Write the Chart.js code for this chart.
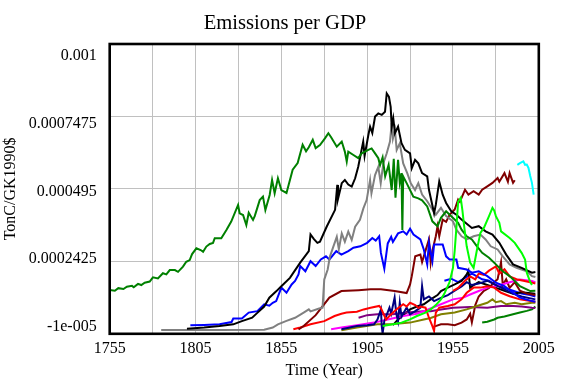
<!DOCTYPE html>
<html>
<head>
<meta charset="utf-8">
<script src="https://cdn.jsdelivr.net/npm/chart.js@4.4.1/dist/chart.umd.min.js"></script>
<style>
html,body{margin:0;padding:0;background:#fff;}
#wrap{width:570px;height:379px;position:relative;}
</style>
</head>
<body>
<div id="wrap"><canvas id="c" width="570" height="379"></canvas></div>
<script>
// values are in units of 1e-5 TonC/GK1990$
const UNIT = 1e-5;

const xTickValues = [1755,1780,1805,1830,1855,1880,1905,1930,1955,1980,2005];
const xLabelYears = [1755,1805,1855,1905,1955,2005];
const yTickValues = [-0.00001, 0.0002425, 0.000495, 0.0007475, 0.001];
const yTickLabels = ['-1e-005','0.0002425','0.000495','0.0007475','0.001'];

const greenYears = [1755,1758,1760,1763,1765,1768,1769,1771.5,1773.4,1775.4,1778.3,1780.2,1783.1,1786,1788,1790,1793,1794.8,1797.7,1799.6,1801.6,1803,1805.5,1808,1809.4,1811.3,1813.3,1815.2,1816.2,1820,1823,1825.8,1829.8,1830.7,1832.7,1834.6,1836,1838.5,1839.5,1842.4,1844.3,1845.7,1848.2,1849.6,1851.1,1853,1855,1858,1861.6,1864.5,1867.4,1869.4,1871,1873.3,1875,1877.5,1880.4,1882.4,1884,1887.3,1890.2,1892,1893.1,1894,1897,1899.8,1901.8,1905.7,1907.6,1909.6,1911.5,1912.5,1914,1915.5,1917.5,1919.3,1920.5,1921.5,1923,1924,1925,1925.5,1926,1928,1931.9,1934.8,1937,1940,1943,1946,1948,1951,1954,1958,1960,1963,1966,1969,1972,1976,1980,1984,1988,1991,1994,2000,2003];
const greenValues = [14.3,14.0,14.9,14.6,15.4,15.7,15.2,16.4,16.0,16.8,17.2,18.7,18.3,20.1,19.7,21.2,21.2,20.6,22.4,24.1,24.7,26.8,28.8,28.2,27.6,29.4,30.3,30.7,32.3,32.3,35.2,38.1,43.9,41.0,40.4,36.9,41.2,38.7,40.0,45.6,46.8,42.1,47.4,52.6,48.0,53.2,49.1,48.1,56.2,58.5,64.9,62.6,64.0,66.6,63.7,64.8,67.1,68.9,67.5,64.2,66.0,62.5,59.0,62.5,61.3,60.2,61.9,63.1,63.6,61.9,60.2,57.8,60.5,53.9,57.9,49.1,60.0,46.4,59.6,51.7,55.0,35.2,53.8,51.5,46.8,46.2,45.5,43.4,38.2,36.5,39.4,41.7,40.0,37.7,35.3,33.0,31.9,29.5,27.2,25.5,23.2,20.8,19.1,17.4,15.6,13.9,14.0];

const blackYears = [1800,1810,1819,1827,1832,1838,1841,1845,1848,1852,1855,1860,1866,1871,1872,1874,1876,1877.5,1881.4,1886.3,1887.6,1888,1890.2,1892,1894,1896,1898,1899.8,1902.7,1903.5,1905.7,1906.7,1908,1909.6,1911.5,1913.5,1915.4,1916.4,1917.7,1918.7,1919.3,1920.2,1921.2,1923,1925,1927,1930,1931,1932.9,1934.8,1937,1940,1941,1944,1945,1947,1949,1951,1954,1957,1960,1966,1970,1974,1978,1982,1986,1990,1995,2001,2003];
const blackValues = [0.8,1.2,1.7,2.3,3.4,4.6,6.3,8.5,11.6,13.8,15.6,18.5,23.8,27.8,33.6,32.0,30.7,31.1,36.3,42.2,50.9,46.0,51.5,52.6,51.0,50.3,53.2,57.2,66.0,61.0,68.3,71.2,69.0,74.7,75.8,75.3,76.4,82.8,81.6,78.1,71.2,74.1,68.9,71.2,65.4,63.1,61.9,56.7,59.6,58.4,55.0,53.9,49.2,41.0,44.0,52.1,47.5,44.6,41.7,40.5,38.8,35.9,36.5,34.7,33.6,30.7,26.6,23.2,22.0,20.3,20.5];

const grayYears = [1785,1800,1820,1845,1850,1853,1858,1863,1868,1871,1872,1877,1879,1880,1882,1883.3,1885.3,1887.3,1888.5,1890.2,1892,1894,1896,1898,1900.8,1902.8,1904.7,1906.7,1907.5,1909.6,1911.5,1912.9,1914.4,1916.4,1918.3,1919.3,1920,1921.2,1922.2,1924,1926,1928.4,1930.4,1932.9,1934.8,1937,1940,1943,1945,1948,1951,1955,1957,1960,1963,1967,1971,1974,1977,1981,1984,1988,1992,1998,2001,2003];
const grayValues = [0.3,0.3,0.3,0.4,1.2,2.3,3.5,4.6,6.4,7.5,6.8,7.8,8.1,17.9,21.4,25.9,29.4,32.8,28.5,34.0,31.1,34.6,31.7,36.3,38.7,42.7,45.6,52.6,48.0,54.3,57.2,51.5,58.4,61.9,66.0,72.4,67.0,70.0,63.1,65.4,58.4,54.9,51.5,49.1,51.5,47.5,45.2,42.3,40.5,42.9,40.0,38.2,35.3,33.0,31.9,33.0,33.6,31.9,29.5,28.4,26.0,23.2,22.0,20.8,19.1,18.8];

const blueYears = [1802,1810,1819,1826,1827,1832,1836,1841,1845,1848,1850,1852,1855,1858,1861,1863,1865,1866,1869,1872,1875,1878,1881,1883,1887,1890,1894,1897,1901,1905,1908,1910,1912,1913,1915,1917,1919,1920,1923,1926,1928,1930,1932,1936,1938,1940,1941,1943,1944,1949,1951,1953,1957,1958,1963,1966,1970,1975,1980,1985,1990,1994,2001,2003];
const blueValues = [2.0,2.1,2.3,3.1,4.3,4.3,6.4,6.9,9.3,8.8,9.8,10.4,15.1,13.3,16.2,17.4,19.7,22.6,20.8,24.3,22.6,24.9,26.0,24.9,27.8,26.6,27.8,29.0,29.5,30.7,32.4,31.5,33.0,27.2,21.7,30.5,32.8,31.0,34.0,34.7,33.6,35.6,33.6,31.9,28.4,23.2,30.7,24.3,30.1,30.1,26.0,24.9,24.9,22.0,21.4,20.3,20.8,19.1,16.8,15.6,13.3,11.6,10.4,10.2];

const maroonYears = [1865,1868,1875,1883,1890,1900,1907,1913,1921,1928,1930,1931,1933,1936,1937,1939,1941,1942,1943,1945,1946,1947,1949,1951,1953,1956,1958,1959,1962,1964,1967,1970,1972,1975,1978,1981,1982,1985,1987,1988,1990,1991];
const maroonValues = [0.5,1.7,5.5,11.6,13.9,14.2,14.5,14.5,13.9,13.2,16.2,19.1,26.0,26.6,24.0,28.0,31.9,23.8,28.0,33.0,36.5,33.0,38.8,38.0,40.5,42.3,45.8,45.0,49.2,47.5,48.7,47.5,49.2,50.4,51.6,53.3,52.0,55.0,52.0,55.0,51.6,52.5];

const cyanYears = [1992.5,1994,1996,1997,1998,1999,2000,2001,2002];
const cyanValues = [57.9,58.5,59.1,57.9,58.0,56.8,54.0,51.6,47.5];

const limeYears = [1914,1920,1925,1930,1934,1939,1942,1945,1948,1950,1953,1955,1956,1957,1958,1959.5,1960.5,1961.5,1963,1965,1967,1969,1971,1973,1976,1978,1979,1980,1982,1983,1988,1991,1995,1997,1998,2000,2001];
const limeValues = [1.7,2.3,2.9,4.0,5.2,6.4,7.5,9.0,11.0,13.0,17.0,22.0,28.0,36.0,45.0,46.4,42.0,36.5,29.5,23.8,22.0,28.4,34.2,35.9,40.0,42.9,42.0,40.0,37.7,34.7,32.4,30.7,27.2,24.9,20.3,17.0,16.0];

const redYears = [1862,1866,1872,1880,1886,1890,1893,1899,1903,1907,1912,1913,1916,1919,1922,1926,1928,1930,1933,1935,1936,1939,1941,1943,1944,1945,1947,1952,1956,1960,1963,1967,1971,1975,1979,1983,1988,1994,2003];
const redValues = [0.6,1.2,2.3,3.4,5.2,6.0,6.4,6.7,7.5,8.1,8.7,8.0,4.0,5.8,7.5,9.3,8.5,9.8,9.0,8.0,8.5,8.1,4.6,1.7,0.0,6.4,8.1,8.7,9.3,11.0,13.3,15.1,15.1,15.6,15.1,13.3,12.1,11.0,10.2];

const red2Years = [1955,1958,1962,1965,1968,1970,1973,1976,1980,1982,1985,1988,1992,1996,2000,2003];
const red2Values = [14.0,15.0,17.5,19.0,18.0,20.0,19.5,21.0,22.5,20.0,21.5,19.0,18.0,17.5,17.0,16.5];

const navyYears = [1890,1899,1905,1909,1911,1913,1913.5,1914,1915,1918,1919,1921,1922,1923,1924,1925,1928,1930,1933,1936,1937,1938,1941,1944,1948,1952,1956,1960,1963,1966,1970,1975,1980,1985,1990,1995,2003];
const navyValues = [0.6,1.7,2.0,2.3,4.0,7.5,1.7,-0.9,3.5,8.1,6.0,11.6,6.0,3.4,9.8,5.0,8.1,5.8,6.9,8.1,15.6,11.0,12.0,10.4,11.5,12.5,14.0,15.5,17.0,16.0,16.5,17.5,16.0,14.5,13.0,12.0,11.0];

const magentaYears = [1884,1890,1899,1909,1917,1926,1934,1938,1948,1955,1961,1965,1970,1975,1980,1987,1994,2001,2003];
const magentaValues = [0.6,1.2,2.0,2.9,4.0,5.2,6.0,6.9,9.3,11.0,11.6,12.7,13.9,15.1,15.6,16.8,17.9,17.4,17.0];

const oliveYears = [1890,1899,1911,1919,1930,1938,1942,1948,1956,1963,1969,1975,1978,1980,1983,1986,1991,1995,2001,2003];
const oliveValues = [0.2,1.2,2.3,2.3,2.9,4.0,4.5,5.8,6.4,7.5,8.7,9.8,11.0,10.0,10.4,9.3,9.8,9.3,9.8,9.8];

const purpleYears = [1900,1905,1911,1920,1928,1938,1942,1948,1955,1965,1975,1983,1990,1995,2001,2003];
const purpleValues = [4.6,5.5,5.8,5.8,6.4,6.9,6.9,7.5,8.1,8.3,8.1,8.7,8.7,8.5,8.1,8.0];

const maroon2Years = [1944,1948,1952,1956,1960,1963,1965,1966,1968,1970,1973,1976,1979,1981,1983,1984,1986,1988,1991,1994,1998,2003];
const maroon2Values = [1.5,2.3,2.3,2.0,2.9,4.0,6.0,3.0,9.0,12.0,14.0,15.0,17.0,18.0,24.0,16.0,18.0,15.0,17.0,14.0,13.0,12.5];

const green2Years = [1972,1975,1979,1981,1985,1990,1994,1998,2001,2003];
const green2Values = [2.9,3.2,4.0,4.6,5.0,5.8,6.4,7.0,7.5,8.5];

const black2Years = [1920,1923,1927,1930,1934,1938,1942,1946,1948,1952,1956,1960,1963,1964,1965,1967,1970,1975,1980,1985,1990,1995,2003];
const black2Values = [2.0,4.0,6.0,7.5,8.5,9.3,11.0,12.5,13.9,15.1,16.2,17.4,19.7,21.0,15.0,16.0,17.0,16.0,15.0,14.0,13.0,13.5,13.0];

const blue2Years = [1950,1954,1958,1962,1966,1969,1972,1976,1980,1985,1990,1995,2000,2003];
const blue2Values = [17.5,18.2,17.0,18.5,20.0,19.0,18.0,17.5,16.0,15.0,14.0,13.0,12.5,12.0];

const seriesDefs = [
  [limeYears, limeValues, '#00ff00'],
  [cyanYears, cyanValues, '#00ffff'],
  [greenYears, greenValues, '#008000'],
  [blackYears, blackValues, '#000000'],
  [grayYears, grayValues, '#808080'],
  [blueYears, blueValues, '#0000ff'],
  [maroonYears, maroonValues, '#800000'],
  [redYears, redValues, '#ff0000'],
  [red2Years, red2Values, '#ff0000'],
  [navyYears, navyValues, '#000080'],
  [magentaYears, magentaValues, '#ff00ff'],
  [oliveYears, oliveValues, '#808000'],
  [purpleYears, purpleValues, '#800080'],
  [maroon2Years, maroon2Values, '#800000'],
  [green2Years, green2Values, '#008000'],
  [black2Years, black2Values, '#000000'],
  [blue2Years, blue2Values, '#0000ff']
];

const datasets = seriesDefs.map(([ys, vs, col]) => ({
  data: ys.map((yr, i) => ({x: yr, y: vs[i] * UNIT})),
  borderColor: col,
  borderWidth: 2,
  pointRadius: 0,
  tension: 0,
  fill: false
}));

Chart.defaults.color = '#000';
Chart.defaults.font.family = "'Liberation Serif', 'Times New Roman', serif";

const framePlugin = {
  id: 'frame',
  afterDraw(chart) {
    const a = chart.chartArea, ctx = chart.ctx;
    ctx.save();
    ctx.strokeStyle = '#000';
    ctx.lineWidth = 2.6;
    ctx.strokeRect(a.left, a.top, a.right - a.left, a.bottom - a.top);
    ctx.restore();
  }
};

new Chart(document.getElementById('c'), {
  type: 'line',
  data: { datasets },
  plugins: [framePlugin],
  options: {
    responsive: false,
    animation: false,
    events: [],
    layout: { padding: 0 },
    plugins: {
      legend: { display: false },
      tooltip: { enabled: false },
      title: {
        display: true,
        text: 'Emissions per GDP',
        font: { size: 20.6, weight: 'normal', lineHeight: 1 },
        padding: { top: 13, bottom: 10.4 },
        color: '#000'
      }
    },
    scales: {
      x: {
        type: 'linear',
        min: 1755, max: 2005,
        afterBuildTicks: s => { s.ticks = xTickValues.map(v => ({ value: v })); },
        afterFit: s => { s.height = 45.2; },
        grid: { color: '#c0c0c0', lineWidth: 1, drawTicks: false },
        border: { display: false },
        ticks: {
          padding: 5,
          maxRotation: 0,
          autoSkip: false,
          font: { size: 16 },
          callback: v => xLabelYears.includes(v) ? String(v) : ''
        },
        title: { display: true, text: 'Time (Year)', font: { size: 16, lineHeight: 1 }, padding: 0 }
      },
      y: {
        type: 'linear',
        position: 'left',
        weight: 0,
        min: -0.00001, max: 0.001,
        afterBuildTicks: s => { s.ticks = yTickValues.map(v => ({ value: v })); },
        afterFit: s => { s.width = 0; },
        grid: { color: '#c0c0c0', lineWidth: 1, drawTicks: false },
        border: { display: false },
        ticks: { display: false }
      },
      yl: {
        type: 'linear',
        position: 'left',
        weight: 1,
        min: -0.0000354, max: 0.0010447,
        afterBuildTicks: s => { s.ticks = yTickValues.map(v => ({ value: v })); },
        afterFit: s => { s.width = 109.7; },
        grid: { display: false, drawTicks: false },
        border: { display: false },
        ticks: {
          padding: 13,
          font: { size: 16 },
          callback: (v, i) => yTickLabels[i]
        },
        title: { display: true, text: 'TonC/GK1990$', font: { size: 16, lineHeight: 1 }, padding: { top: 3, bottom: 0 } }
      },
      yr: {
        type: 'linear',
        position: 'right',
        min: 0, max: 1,
        afterFit: s => { s.width = 31.2; },
        grid: { display: false, drawTicks: false },
        border: { display: false },
        ticks: { display: false }
      }
    }
  }
});
</script>
</body>
</html>
